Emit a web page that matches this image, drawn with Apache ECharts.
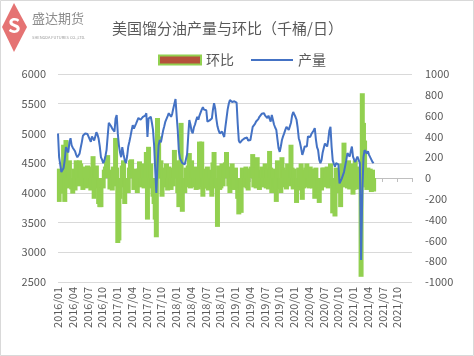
<!DOCTYPE html>
<html>
<head>
<meta charset="utf-8">
<script src="https://cdn.jsdelivr.net/npm/echarts@6/dist/echarts.min.js"></script>
<style>html,body{margin:0;padding:0;background:#fff;}#c{width:474px;height:356px;}</style>
</head>
<body>
<div id="c"></div>
<script>
// ---- data (weekly, starting 2016-01-01) ----
const startDate = '2016-01-01';
const production = [
5000,4600,4480,4350,4380,4420,4560,4770,4720,4680,
4850,4920,4800,4760,4740,4700,4640,4600,4620,4660,
4760,4850,4960,4940,5000,5030,4990,4960,4900,4860,
4950,4960,4880,4950,5020,4980,4910,4780,4600,4560,
4500,4540,4620,4720,4950,5180,5160,5120,5080,5050,
5030,5250,5310,5000,4800,4680,4600,4770,4650,4550,
4500,4620,4780,4860,4950,5050,5140,5080,5050,5170,
5200,5260,5240,5230,5250,5280,5260,5300,5340,4940,
5250,5270,5280,5180,5060,4800,4380,4000,4450,4800,
4890,4850,4950,5050,5120,5200,5225,5290,5340,5320,
5280,5330,5420,5500,5580,5300,5050,4700,4580,4550,
4500,4520,4480,4500,4650,4950,5225,5150,5040,5000,
5100,5150,5220,5280,5230,5300,5350,5400,5440,5400,
5380,5390,5200,5180,5220,5230,5250,5400,5510,5420,
5250,5120,5050,5000,4980,5030,5010,4940,5100,5250,
5400,5500,5560,5540,5530,5510,5540,5560,5520,5170,
4880,4840,4870,4890,4860,4920,4950,4930,4880,4900,
4890,5000,5110,5130,5160,5200,5180,5240,5280,5300,
5330,5360,5340,5300,5330,5260,5300,5250,5200,5310,
5280,5150,5100,5060,4900,4750,4690,4780,4890,4950,
5000,5060,5110,5090,5060,5060,5180,5300,5360,5320,
5280,5230,5100,4920,4850,4750,4640,4700,4780,4800,
4780,4950,4980,4940,4990,5010,5050,5090,4900,4770,
4720,4560,4500,4550,4680,4760,4830,4800,4780,4890,
5050,5110,4780,4550,4490,4440,4500,4530,4480,4160,
4200,4240,4270,4350,4450,4550,4670,4640,4610,4700,
4780,4610,4560,4520,4550,4610,4580,4500,2870,3990,
4600,4720,4690,4660,4700,4640,4610,4560,4520,4500
];
const change = [
90,-230,-120,-150,110,320,-230,365,-100,100,
170,-90,-110,-150,90,-120,170,120,-80,170,
140,-70,-115,110,90,-100,120,-90,80,-120,
110,210,-200,90,120,-100,-250,-280,-280,-90,
-100,80,110,160,220,80,-110,-90,-120,110,
-80,385,100,-625,-600,-200,-90,120,170,-250,
-100,-140,-145,100,170,180,77,-115,90,-80,
-145,90,160,-90,100,140,-100,90,250,-400,
300,-90,140,-100,-180,-250,-400,-570,577,400,
90,170,-180,100,-90,80,140,-120,110,-100,
-115,100,-80,270,80,170,-145,-280,-120,530,
-325,-100,-145,100,-90,120,240,-100,170,80,
-90,110,-115,100,-110,350,-90,350,-180,-100,
90,-100,110,-120,80,-90,-180,150,250,-100,
-90,-470,120,-115,-100,140,-80,100,150,250,
110,-80,-145,90,140,-100,-115,100,-90,-200,
-350,-90,-335,100,80,-90,110,-100,-120,90,
90,110,230,-90,100,-100,200,-80,-115,80,
110,-90,100,140,-100,90,-110,260,100,-145,
90,-120,-90,-230,170,-110,-100,-145,200,100,
80,-90,-110,140,-80,100,320,100,-110,90,
-100,-240,-120,100,-80,140,-210,-100,80,100,
140,-90,-100,110,70,-100,90,-200,100,-80,
-100,-240,-90,-120,100,100,-90,90,110,-100,
100,140,-80,-340,-110,-370,100,77,-100,-145,
-280,140,-90,340,100,140,-100,170,-110,77,
140,-160,-115,170,-90,110,-110,90,-950,815,
530,360,-90,-115,100,-80,90,-135,80,-130
];
const seriesNames = ['环比', '产量'];
const titleText = '美国馏分油产量与环比（千桶/日）';
const leftAxis = {min: 2500, max: 6000, step: 500};
const rightAxis = {min: -1000, max: 1000, step: 200};
const xStartYear = 2016;        // month index 0 = 2016/01
const xMonthsShown = 72;        // axis spans 2016/01 .. 2022/01
const xLabelStep = 3;

// ---- build ----
function monthIndex(d) {
  const y = d.getUTCFullYear(), mo = d.getUTCMonth(), day = d.getUTCDate();
  const dim = new Date(Date.UTC(y, mo + 1, 0)).getUTCDate();
  return (y - xStartYear) * 12 + mo + (day - 1) / dim;
}
const t0 = Date.parse(startDate + 'T00:00:00Z');
const xs = production.map((_, i) => monthIndex(new Date(t0 + i * 7 * 86400000)));

const gray = '#595959';
const font = '"Noto Sans CJK SC", "Liberation Sans", sans-serif';
const plain = v => String(v);
const chart = echarts.init(document.getElementById('c'), null, {renderer: 'canvas'});
chart.setOption({
  animation: false,
  backgroundColor: '#fff',
  textStyle: {fontFamily: font},
  title: {
    text: titleText, left: 107, top: 16,
    textStyle: {fontSize: 15, fontWeight: 'normal', color: gray, fontFamily: font}
  },
  legend: {
    top: 48, left: 153, itemWidth: 42, itemHeight: 9, itemGap: 16,
    textStyle: {fontSize: 14, color: gray, fontFamily: font},
    data: [
      {name: seriesNames[0], icon: 'rect', itemStyle: {color: '#B5523B', borderColor: '#92D050', borderWidth: 2}},
      {name: seriesNames[1], itemStyle: {opacity: 0}, lineStyle: {color: '#4472C4', width: 2}}
    ]
  },
  grid: {left: 58, right: 62, top: 74, bottom: 74},
  xAxis: {
    type: 'value', min: 0, max: xMonthsShown, interval: xLabelStep,
    axisLine: {show: true, lineStyle: {color: '#BFBFBF'}},
    axisTick: {show: true, length: 4, lineStyle: {color: '#BFBFBF'}},
    splitLine: {show: false},
    axisLabel: {
      rotate: 90, fontSize: 11, color: gray, margin: 5, fontFamily: font,
      formatter: v => {
        if (v >= xMonthsShown) return '';
        const y = xStartYear + Math.floor(v / 12);
        const m = v % 12 + 1;
        return y + '/' + (m < 10 ? '0' + m : m);
      }
    }
  },
  yAxis: [
    {
      type: 'value', min: leftAxis.min, max: leftAxis.max, interval: leftAxis.step,
      axisLine: {show: false}, axisTick: {show: false},
      splitLine: {lineStyle: {color: '#D9D9D9'}},
      axisLabel: {fontSize: 11, color: gray, margin: 12, fontFamily: font, formatter: plain}
    },
    {
      type: 'value', min: rightAxis.min, max: rightAxis.max, interval: rightAxis.step,
      axisLine: {show: false}, axisTick: {show: false}, splitLine: {show: false},
      axisLabel: {fontSize: 11, color: gray, margin: 13, fontFamily: font, formatter: plain}
    }
  ],
  series: [
    {
      name: seriesNames[0], type: 'bar', yAxisIndex: 1, barWidth: 5,
      data: change.map((v, i) => [xs[i], v]),
      itemStyle: {color: '#92D050'}, z: 2
    },
    {
      name: seriesNames[1], type: 'line', yAxisIndex: 0, symbol: 'none',
      data: production.map((v, i) => [xs[i], v]),
      lineStyle: {color: '#4472C4', width: 2}, itemStyle: {color: '#4472C4'}, z: 3
    }
  ],
  graphic: [
    {type: 'rect', shape: {x: 0.5, y: 0.5, width: 473, height: 355}, style: {fill: 'none', stroke: '#D9D9D9', lineWidth: 1}, silent: true},
    {type: 'polygon', shape: {points: [[14, 3], [27, 27], [14, 52], [2, 27]]}, style: {fill: '#E57373'}},
    {type: 'text', left: 8, top: 15, style: {text: 'S', fontSize: 20, fontWeight: 'bold', fill: '#fff', fontFamily: font}},
    {type: 'text', left: 32, top: 12, style: {text: '盛达期货', fontSize: 13, fill: '#8C8C8C', fontFamily: font}},
    {type: 'text', left: 32, top: 35, style: {text: 'SHENGDA FUTURES CO.,LTD.', fontSize: 4, fill: '#9A9A9A', fontFamily: font}}
  ]
});
</script>
</body>
</html>
